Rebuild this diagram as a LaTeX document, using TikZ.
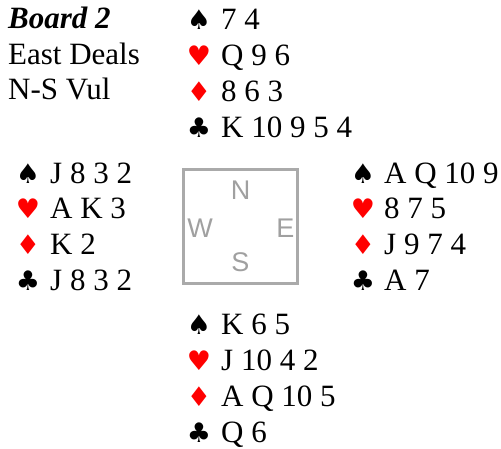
\documentclass[tikz,border=0pt]{standalone}
\usepackage{fontspec}
\setmainfont{Liberation Serif}
\newfontfamily\compassfont{Liberation Sans}
\newfontfamily\suitfont{DejaVu Sans}
\definecolor{suitred}{HTML}{FF0000}
\definecolor{boxgray}{HTML}{AAAAAA}
\definecolor{lettergray}{HTML}{A0A0A0}
\begin{document}
\begin{tikzpicture}[x=1pt,y=-1pt,
  cards/.style={anchor=base west,inner sep=0pt,font=\fontsize{31}{36}\selectfont},
  info/.style={anchor=base west,inner sep=0pt,font=\fontsize{31}{36}\selectfont},
  suit/.style={anchor=base,inner sep=0pt,font=\suitfont\fontsize{27}{30}\selectfont},
  redsuit/.style={suit,text=suitred},
  dir/.style={inner sep=0pt,text=lettergray,font=\compassfont\fontsize{27}{30}\selectfont},
  compass/.style={draw=boxgray,line width=2.7pt}]
\useasboundingbox (0,0) rectangle (501,448);
% info
\node[info,font=\bfseries\itshape\fontsize{31}{36}\selectfont] (board) at (8,28) {Board 2};
\node[info] (dealer) at (8,64) {East Deals};
\node[info] (vul) at (8,99) {N-S Vul};
% North
\node[suit] (ns) at (199,29) {♠};
\node[cards] (nst) at (221,29) {7 4};
\node[redsuit] (nh) at (199,65) {♥};
\node[cards] (nht) at (221,65) {Q 9 6};
\node[redsuit] (nd) at (199,101) {♦};
\node[cards] (ndt) at (221,101) {8 6 3};
\node[suit] (nc) at (199,137) {♣};
\node[cards] (nct) at (221,137) {K 10 9 5 4};
% West
\node[suit] (ws) at (28,183) {♠};
\node[cards] (wst) at (50,183) {J 8 3 2};
\node[redsuit] (wh) at (28,218.5) {♥};
\node[cards] (wht) at (50,218.5) {A K 3};
\node[redsuit] (wd) at (28,254) {♦};
\node[cards] (wdt) at (50,254) {K 2};
\node[suit] (wc) at (28,290) {♣};
\node[cards] (wct) at (50,290) {J 8 3 2};
% East
\node[suit] (es) at (363,183) {♠};
\node[cards] (est) at (384,183) {A Q 10 9};
\node[redsuit] (eh) at (363,218.5) {♥};
\node[cards] (eht) at (384,218.5) {8 7 5};
\node[redsuit] (ed) at (363,254) {♦};
\node[cards] (edt) at (384,254) {J 9 7 4};
\node[suit] (ec) at (363,290) {♣};
\node[cards] (ect) at (384,290) {A 7};
% South
\node[suit] (ss) at (199,334) {♠};
\node[cards] (sst) at (221,334) {K 6 5};
\node[redsuit] (sh) at (199,370) {♥};
\node[cards] (sht) at (221,370) {J 10 4 2};
\node[redsuit] (sd) at (199,406) {♦};
\node[cards] (sdt) at (221,406) {A Q 10 5};
\node[suit] (sc) at (199,442) {♣};
\node[cards] (sct) at (221,442) {Q 6};
% compass
\draw[compass] (183.5,169.5) rectangle (297.5,283.5);
\node[dir] (cn) at (240.5,190) {N};
\node[dir] (cw) at (200,228) {W};
\node[dir] (ce) at (285.5,228) {E};
\node[dir] (cs) at (240.5,262) {S};
\end{tikzpicture}
\end{document}
